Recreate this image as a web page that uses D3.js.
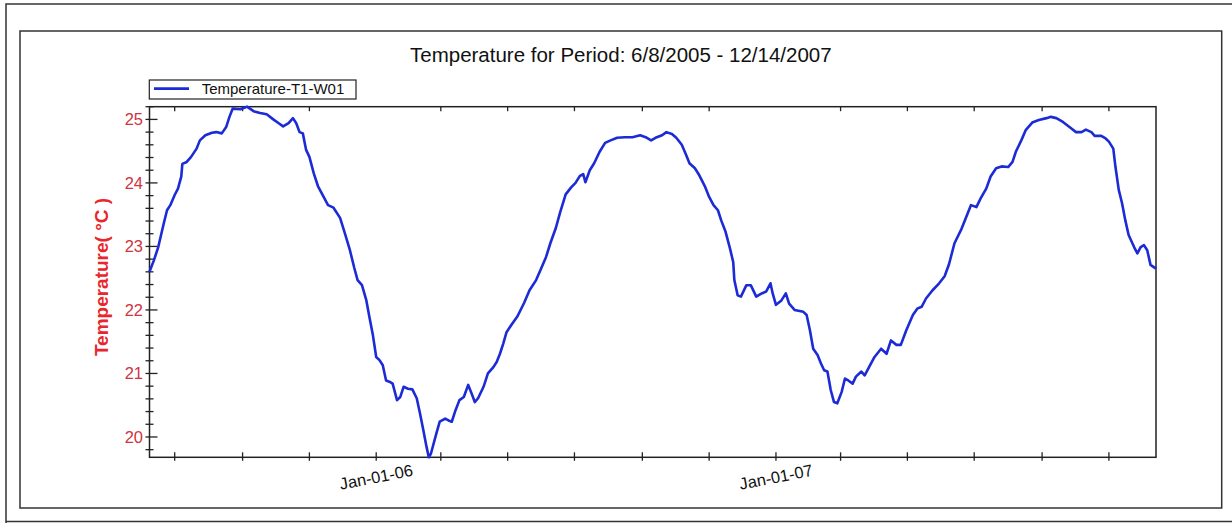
<!DOCTYPE html>
<html>
<head>
<meta charset="utf-8">
<script src="https://cdn.jsdelivr.net/npm/d3@7/dist/d3.min.js"></script>
<style>
  html, body { margin: 0; padding: 0; background: #fff; }
  svg { display: block; font-family: "Liberation Sans", Arial, sans-serif; }
</style>
</head>
<body>
<svg id="chart" width="1232" height="523"></svg>
<script>
// Logger record: water temperature, sensor T1-W01
const seriesName = "Temperature-T1-W01";
const startDate = "2005-06-08";
const endDate = "2007-12-14";

// Elapsed days since startDate for each reading
const daysSinceStart = [
  0, 4, 8, 13, 16, 19, 23, 26, 29, 30, 34, 38, 43, 46, 51, 57, 61, 66, 70, 73,
  76, 83, 89, 95, 101, 107, 113, 118, 122, 127, 131, 134, 137, 140, 143, 146, 150, 154, 159, 163,
  168, 174, 178, 183, 187, 190, 194, 198, 201, 204, 207, 210, 213, 216, 219, 222, 226, 229, 232, 236,
  240, 244, 247, 250, 253, 255, 257, 262, 265, 270, 273, 276, 279, 283, 287, 291, 294, 297, 300, 305,
  309, 314, 317, 320, 323, 326, 331, 336, 342, 347, 353, 357, 362, 366, 371, 375, 380, 385, 389, 393,
  396, 398, 402, 406, 411, 416, 421, 427, 434, 441, 448, 453, 458, 462, 468, 472, 477, 481, 486, 490,
  493, 498, 502, 507, 511, 515, 519, 522, 526, 530, 533, 534, 537, 540, 545, 549, 554, 559, 563, 567,
  569, 572, 577, 581, 584, 589, 597, 600, 603, 606, 610, 613, 616, 619, 622, 625, 628, 632, 635, 638,
  642, 645, 650, 653, 657, 662, 668, 673, 677, 682, 686, 691, 697, 701, 705, 709, 715, 721, 726, 730,
  735, 741, 747, 750, 755, 759, 764, 768, 773, 778, 784, 788, 791, 796, 800, 806, 812, 819, 823, 828,
  834, 840, 846, 851, 855, 860, 863, 869, 873, 876, 880, 882, 885, 888, 891, 894, 899, 902, 905, 908,
  911, 914, 919
];

// Temperature readings, °C
const temperatures = [
  22.60, 22.78, 22.99, 23.36, 23.57, 23.65, 23.81, 23.91, 24.10, 24.30, 24.33, 24.41, 24.54, 24.67, 24.75, 24.79, 24.80, 24.78, 24.88, 25.04,
  25.17, 25.16, 25.20, 25.13, 25.10, 25.08, 25.00, 24.94, 24.89, 24.94, 25.02, 24.94, 24.80, 24.78, 24.52, 24.41, 24.15, 23.94, 23.78, 23.65,
  23.61, 23.45, 23.23, 22.94, 22.66, 22.47, 22.39, 22.15, 21.87, 21.60, 21.26, 21.21, 21.13, 20.89, 20.87, 20.84, 20.58, 20.63, 20.79, 20.76,
  20.75, 20.61, 20.37, 20.11, 19.84, 19.68, 19.74, 20.06, 20.24, 20.29, 20.26, 20.24, 20.40, 20.58, 20.63, 20.82, 20.69, 20.55, 20.61, 20.79,
  21.00, 21.10, 21.18, 21.31, 21.47, 21.65, 21.78, 21.90, 22.11, 22.31, 22.47, 22.63, 22.83, 23.05, 23.29, 23.54, 23.82, 23.93, 24.00, 24.11,
  24.14, 24.01, 24.20, 24.31, 24.49, 24.63, 24.67, 24.71, 24.72, 24.72, 24.75, 24.72, 24.67, 24.71, 24.75, 24.80, 24.77, 24.71, 24.60, 24.44,
  24.31, 24.23, 24.12, 23.95, 23.78, 23.65, 23.57, 23.41, 23.23, 22.97, 22.75, 22.47, 22.23, 22.21, 22.39, 22.39, 22.21, 22.26, 22.29, 22.42,
  22.26, 22.08, 22.15, 22.26, 22.10, 22.00, 21.97, 21.92, 21.68, 21.39, 21.29, 21.16, 21.05, 21.03, 20.74, 20.55, 20.53, 20.71, 20.92, 20.89,
  20.84, 20.95, 21.03, 20.97, 21.10, 21.26, 21.39, 21.31, 21.52, 21.45, 21.45, 21.68, 21.92, 22.02, 22.05, 22.18, 22.31, 22.42, 22.53, 22.72,
  23.05, 23.26, 23.52, 23.65, 23.62, 23.76, 23.91, 24.10, 24.23, 24.26, 24.25, 24.33, 24.49, 24.67, 24.83, 24.95, 24.99, 25.02, 25.04, 25.02,
  24.96, 24.88, 24.80, 24.80, 24.84, 24.80, 24.74, 24.74, 24.70, 24.65, 24.54, 24.25, 23.89, 23.68, 23.41, 23.18, 22.99, 22.89, 22.99, 23.02,
  22.94, 22.71, 22.65
];

// Labelled temperature ticks on the value axis
const yTickValues = [20, 21, 22, 23, 24, 25];

const titleText = "Temperature for Period: 6/8/2005 - 12/14/2007";
const yAxisTitle = "Temperature( °C )";

const svg = d3.select("#chart");
const W = 1232, H = 523;

const plot = { left: 149.5, right: 1156, top: 106.7, bottom: 457.3 };

const parseDay = d3.utcParse("%Y-%m-%d");
const t0 = parseDay(startDate);
const t1 = parseDay(endDate);

const data = daysSinceStart.map((d, i) => ({
  date: d3.utcDay.offset(t0, d),
  value: temperatures[i]
}));

const x = d3.scaleUtc().domain([t0, t1]).range([plot.left, plot.right]);
const y = d3.scaleLinear().domain(d3.extent(temperatures)).range([plot.bottom, plot.top]);

const lineColor = "#1c2bd6";
const frameColor = "#222";

// Page frames
svg.append("path")
  .attr("d", `M6,523 V4 H1232 M6,521.5 H1232`)
  .attr("fill", "none").attr("stroke", "#333").attr("stroke-width", 1.5);
svg.append("rect")
  .attr("x", 20).attr("y", 31).attr("width", 1201.7).attr("height", 477)
  .attr("fill", "#fff").attr("stroke", "#333").attr("stroke-width", 1.5);

// Title
svg.append("text")
  .attr("x", (20 + 1221.7) / 2).attr("y", 62.3)
  .attr("text-anchor", "middle")
  .attr("font-size", 20.5).attr("fill", "#111")
  .text(titleText);

// Legend
const legend = svg.append("g");
legend.append("rect")
  .attr("x", 149.3).attr("y", 80).attr("width", 206.7).attr("height", 19)
  .attr("fill", "#fff").attr("stroke", frameColor).attr("stroke-width", 1.2);
legend.append("line")
  .attr("x1", 154).attr("x2", 189).attr("y1", 88.6).attr("y2", 88.6)
  .attr("stroke", lineColor).attr("stroke-width", 2.6);
legend.append("text")
  .attr("x", 201.7).attr("y", 94.3)
  .attr("font-size", 15).attr("fill", "#111")
  .text(seriesName);

// Time ticks every second month
const xTicks = x.ticks(d3.utcMonth.every(2)).filter(d => d >= t0 && d <= t1);
const fmtX = d3.utcFormat("%b-%d-%y");

// Bottom axis ticks (crossing the axis line)
svg.append("g").selectAll("line").data(xTicks).join("line")
  .attr("x1", d => x(d)).attr("x2", d => x(d))
  .attr("y1", plot.bottom - 5).attr("y2", plot.bottom + 3.5)
  .attr("stroke", frameColor).attr("stroke-width", 1.3);

// Top axis ticks, skipping the labelled January marks
svg.append("g").selectAll("line").data(xTicks.filter(d => d.getUTCMonth() !== 0)).join("line")
  .attr("x1", d => x(d)).attr("x2", d => x(d))
  .attr("y1", plot.top).attr("y2", plot.top + 4.5)
  .attr("stroke", frameColor).attr("stroke-width", 1.3);

// Year labels at January ticks
svg.append("g").selectAll("text").data(xTicks.filter(d => d.getUTCMonth() === 0)).join("text")
  .attr("transform", d => `translate(${x(d)},477) rotate(-11)`)
  .attr("text-anchor", "middle").attr("dy", "0.35em")
  .attr("font-size", 16.5).attr("fill", "#111")
  .text(d => fmtX(d));

// Value axis: minor ticks every 0.2 °C, major ticks at whole degrees
const [yMin, yMax] = y.domain();
const minorTicks = d3.range(Math.ceil(yMin * 5), Math.floor(yMax * 5) + 1).map(k => k / 5)
  .filter(v => Math.abs(v - Math.round(v)) > 1e-6);

svg.append("g").selectAll("line").data(minorTicks).join("line")
  .attr("x1", plot.left - 4).attr("x2", plot.left + 4)
  .attr("y1", d => y(d)).attr("y2", d => y(d))
  .attr("stroke", frameColor).attr("stroke-width", 1.3);

svg.append("g").selectAll("line").data(yTickValues).join("line")
  .attr("x1", plot.left - 4).attr("x2", plot.left + 8)
  .attr("y1", d => y(d)).attr("y2", d => y(d))
  .attr("stroke", frameColor).attr("stroke-width", 1.3);

svg.append("g").selectAll("text").data(yTickValues).join("text")
  .attr("x", plot.left - 6.5).attr("y", d => y(d)).attr("dy", "0.35em")
  .attr("text-anchor", "end")
  .attr("font-size", 16.5).attr("fill", "#cf3442")
  .text(d => d);

// Y axis title
svg.append("text")
  .attr("transform", `translate(108,277) rotate(-90)`)
  .attr("text-anchor", "middle")
  .attr("font-size", 19).attr("font-weight", "bold").attr("fill", "#e8262b")
  .text(yAxisTitle);

// Plot frame
svg.append("rect")
  .attr("x", plot.left).attr("y", plot.top)
  .attr("width", plot.right - plot.left).attr("height", plot.bottom - plot.top)
  .attr("fill", "none").attr("stroke", frameColor).attr("stroke-width", 1.5);

// Temperature line
const line = d3.line().x(d => x(d.date)).y(d => y(d.value));
svg.append("path")
  .datum(data)
  .attr("d", line)
  .attr("fill", "none")
  .attr("stroke", lineColor)
  .attr("stroke-width", 2.6)
  .attr("stroke-linejoin", "round");
</script>
</body>
</html>
